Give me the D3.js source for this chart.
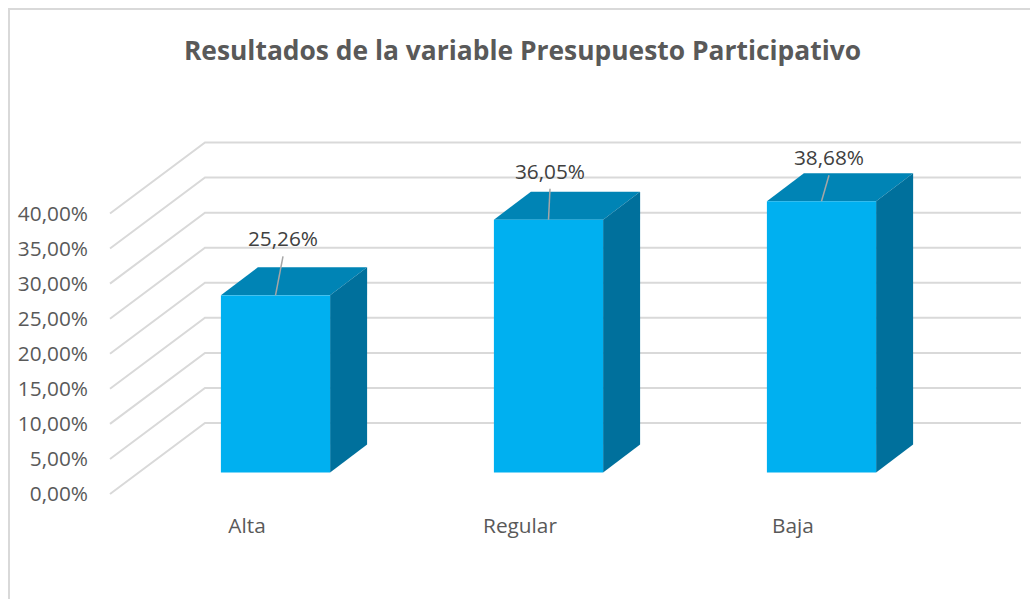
<!DOCTYPE html>
<html lang="es">
<head>
<meta charset="utf-8">
<title>Resultados de la variable Presupuesto Participativo</title>
<script src="https://d3js.org/d3.v7.min.js"></script>
<style>
  html, body { margin: 0; padding: 0; background: #fff; overflow: hidden; }
  text { font-family: "Open Sans", sans-serif; }
  .title { font-size: 26.4px; font-weight: 700; fill: #595959; }
  .axis text { font-size: 20.8px; fill: #595959; }
  .label { font-size: 20.8px; fill: #404040; }
  .grid { stroke: #d9d9d9; stroke-width: 2; fill: none; }
  .leader { stroke: #a6a6a6; stroke-width: 1.5; }
</style>
</head>
<body>
<svg id="chart" width="1030" height="599"></svg>
<script>
const categories = ["Alta", "Regular", "Baja"];
const values = [25.26, 36.05, 38.68];
const valueLabels = ["25,26%", "36,05%", "38,68%"];
const yTicks = [0, 5, 10, 15, 20, 25, 30, 35, 40];

// dragged data labels, offset from the middle of the bar's top front edge
const labelDx = [7.5, 1.5, 7.5];
const labelDy = [-49, -41, -36];

const svg = d3.select("#chart");

const xScale = d3.scaleBand()
  .domain(categories)
  .range([139, 958])
  .paddingInner(0.6)
  .paddingOuter(0.3);

// front of the left wall
const yScale = d3.scaleLinear()
  .domain([0, 40])
  .range([494, 213.5]);

// 3d offsets: wall depth, bar depth, how far the bars sit in from the front
const wallDx = 95, wallDy = -71;
const barDx = 37, barDy = -28;
const floorDy = -21.5;
const wallLeft = 110, wallRight = 1021;

// chart area border (only top and left show in the crop)
svg.append("path")
  .attr("class", "grid")
  .attr("d", "M9,599V9H1030");

svg.append("text")
  .attr("class", "title")
  .attr("x", 522.5)
  .attr("y", 60)
  .attr("text-anchor", "middle")
  .text("Resultados de la variable Presupuesto Participativo");

// gridlines, side wall then back wall
svg.append("g").selectAll("path")
  .data(yTicks)
  .enter()
  .append("path")
  .attr("class", "grid")
  .attr("d", d => {
    const y = yScale(d);
    return "M" + wallLeft + "," + y + "L" + (wallLeft + wallDx) + "," + (y + wallDy) + "H" + wallRight;
  });

const yAxis = d3.axisLeft(yScale)
  .tickValues(yTicks)
  .tickSize(0)
  .tickPadding(0)
  .tickFormat(d => d3.format(".2f")(d).replace(".", ",") + "%");

svg.append("g")
  .attr("class", "axis")
  .attr("transform", "translate(88,0)")
  .call(yAxis)
  .call(g => g.select(".domain").remove());

const xAxis = d3.axisBottom(xScale)
  .tickSize(0)
  .tickPadding(0);

svg.append("g")
  .attr("class", "axis")
  .attr("transform", "translate(-28.5,518)")
  .call(xAxis)
  .call(g => g.select(".domain").remove());

const barBase = yScale(0) + floorDy;
const barTop = d => yScale(d) + floorDy;

const bars = svg.append("g").selectAll("g")
  .data(values)
  .enter()
  .append("g");

// top face
bars.append("path")
  .attr("fill", "#0084b5")
  .attr("d", (d, i) => {
    const x = xScale(categories[i]), w = xScale.bandwidth(), y = barTop(d);
    return "M" + x + "," + y + "l" + barDx + "," + barDy + "h" + w + "l" + (-barDx) + "," + (-barDy) + "Z";
  });

// side face
bars.append("path")
  .attr("fill", "#00709c")
  .attr("d", (d, i) => {
    const x = xScale(categories[i]) + xScale.bandwidth(), y = barTop(d);
    return "M" + x + "," + y + "l" + barDx + "," + barDy + "V" + (barBase + barDy) + "l" + (-barDx) + "," + (-barDy) + "Z";
  });

// front face
bars.append("rect")
  .attr("fill", "#00b0f0")
  .attr("x", (d, i) => xScale(categories[i]))
  .attr("y", d => barTop(d))
  .attr("width", xScale.bandwidth())
  .attr("height", d => barBase - barTop(d));

// leader lines go from the label down to the top edge
bars.append("line")
  .attr("class", "leader")
  .attr("x1", (d, i) => xScale(categories[i]) + xScale.bandwidth() / 2)
  .attr("y1", d => barTop(d))
  .attr("x2", (d, i) => xScale(categories[i]) + xScale.bandwidth() / 2 + labelDx[i])
  .attr("y2", (d, i) => barTop(d) + labelDy[i] + 10);

bars.append("text")
  .attr("class", "label")
  .attr("x", (d, i) => xScale(categories[i]) + xScale.bandwidth() / 2 + labelDx[i])
  .attr("y", (d, i) => barTop(d) + labelDy[i])
  .attr("text-anchor", "middle")
  .text((d, i) => valueLabels[i]);
</script>
</body>
</html>
